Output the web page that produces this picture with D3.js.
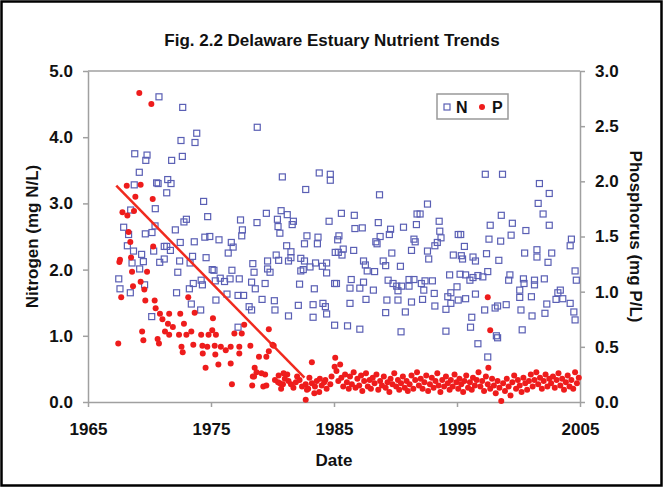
<!DOCTYPE html>
<html>
<head>
<meta charset="utf-8">
<script src="https://cdn.jsdelivr.net/npm/d3@7"></script>
<style>
  body { margin: 0; background: #fff; }
  text { font-family: Arial, "Liberation Sans", sans-serif; font-weight: bold; fill: #111; }
</style>
</head>
<body>
<div id="chart"></div>
<script>
// Chart size
const width = 663;
const height = 487;
const margin = { top: 71, right: 83, bottom: 85, left: 88 };

// Tick values
const yearTicks = [1965, 1975, 1985, 1995, 2005];
const nTicks = [0, 1, 2, 3, 4, 5];
const pTicks = [0, 0.5, 1, 1.5, 2, 2.5, 3];

// Nitrogen samples [year, mg N/L]
const nPoints = [
  [1970.77,4.61],[1972.7,4.45],[1973.84,4.06],[1973.7,3.92],[1972.56,3.95],[1968.8,3.75],[1969.8,3.73],[1969.7,3.65],
  [1971.8,3.65],[1972.67,3.71],[1969.17,3.47],[1968.76,3.28],[1970.58,3.31],[1970.7,3.30],[1971.48,3.36],[1971.75,3.30],
  [1971.4,3.16],[1974.4,3.03],[1970.47,2.92],[1968.47,2.90],[1974.73,2.80],[1973.0,2.76],[1972.8,2.72],[1967.9,2.64],
  [1968.3,2.53],[1969.66,2.54],[1970.2,2.56],[1970.45,2.66],[1972.1,2.60],[1974.5,2.49],[1974.9,2.50],[1973.64,2.42],
  [1972.5,2.41],[1968.2,2.36],[1968.7,2.28],[1969.36,2.23],[1970.34,2.28],[1971.2,2.35],[1971.4,2.35],[1971.7,2.29],
  [1974.6,2.18],[1971.2,2.16],[1970.83,2.11],[1969.5,2.12],[1968.58,2.10],[1972.45,2.13],[1973.5,2.20],[1973.3,2.10],
  [1969.2,2.01],[1975.1,2.00],[1972.3,1.96],[1967.5,1.86],[1967.6,1.71],[1968.44,1.65],[1969.6,1.77],[1972.2,1.65],
  [1973.24,1.71],[1973.56,1.79],[1974.3,1.77],[1974.2,1.84],[1973.4,1.48],[1974.16,1.39],[1970.18,1.29],
  [1978.76,4.15],[1980.8,3.40],[1983.8,3.46],[1984.7,3.44],[1984.7,3.35],[1982.7,3.21],[1977.4,2.75],[1979.5,2.85],
  [1980.7,2.89],[1981.2,2.83],[1980.4,2.76],[1978.74,2.71],[1981.7,2.73],[1981.6,2.68],[1980.45,2.65],[1977.55,2.60],
  [1980.6,2.55],[1984.6,2.73],[1977.5,2.51],[1975.65,2.45],[1976.65,2.41],[1976.8,2.34],[1982.8,2.51],[1983.7,2.49],
  [1983.65,2.39],[1982.6,2.39],[1981.15,2.36],[1976.4,2.25],[1985.1,2.26],[1980.3,2.22],[1981.5,2.27],[1981.5,2.18],
  [1979.6,2.13],[1980.5,2.14],[1981.3,2.13],[1982.3,2.17],[1982.6,2.13],[1978.4,2.09],[1983.5,2.10],[1983.05,2.04],
  [1984.05,2.05],[1984.4,2.10],[1978.5,1.96],[1979.6,2.01],[1979.8,1.96],[1975.24,1.99],[1976.7,1.99],[1984.4,1.95],
  [1982.3,1.98],[1982.5,2.00],[1975.35,1.83],[1975.75,1.87],[1976.1,1.82],[1976.55,1.86],[1977.3,1.86],[1978.3,1.81],
  [1978.6,1.71],[1979.4,1.79],[1982.2,1.78],[1985.05,1.79],[1983.4,1.71],[1975.4,1.54],[1977.2,1.61],[1977.65,1.61],
  [1976.3,1.63],[1979.15,1.55],[1980.15,1.53],[1980.2,1.39],[1982.1,1.46],[1983.3,1.47],[1984.1,1.49],[1984.3,1.44],
  [1978.1,1.44],[1978.3,1.39],[1981.3,1.30],[1983.3,1.28],[1984.4,1.33],[1985.05,1.16],[1977.2,1.13],
  [1988.7,3.13],[1992.6,2.99],[1985.6,2.85],[1986.65,2.82],[1991.75,2.84],[1992.0,2.84],[1993.55,2.73],[1986.7,2.62],
  [1987.3,2.63],[1988.6,2.71],[1989.6,2.61],[1990.65,2.64],[1991.7,2.68],[1993.6,2.58],[1993.7,2.48],[1995.1,2.53],
  [1985.4,2.51],[1985.3,2.45],[1988.75,2.50],[1989.5,2.53],[1988.4,2.42],[1988.5,2.39],[1991.5,2.46],[1991.6,2.42],
  [1993.4,2.41],[1993.2,2.36],[1985.75,2.31],[1985.35,2.26],[1985.65,2.22],[1986.6,2.29],[1989.7,2.25],[1991.3,2.29],
  [1992.6,2.28],[1994.7,2.22],[1987.4,2.13],[1987.55,2.07],[1989.0,2.13],[1989.2,2.06],[1990.4,2.05],[1992.7,2.16],
  [1987.7,1.98],[1988.3,1.97],[1994.4,1.92],[1985.2,1.79],[1986.4,1.85],[1986.3,1.72],[1987.1,1.72],[1987.4,1.81],
  [1988.2,1.69],[1989.4,1.84],[1989.8,1.79],[1990.1,1.75],[1990.5,1.75],[1991.1,1.85],[1991.5,1.85],[1990.2,1.68],
  [1991.1,1.75],[1992.1,1.79],[1992.4,1.83],[1992.3,1.69],[1993.0,1.83],[1993.15,1.64],[1994.25,1.59],[1994.5,1.65],
  [1995.0,1.74],[1986.3,1.49],[1987.6,1.55],[1989.3,1.54],[1990.2,1.54],[1991.3,1.51],[1992.2,1.55],[1993.2,1.45],
  [1994.1,1.40],[1994.5,1.49],[1989.2,1.35],[1990.8,1.36],[1986.1,1.15],[1987.1,1.10],[1990.45,1.06],[1994.1,1.07],
  [1997.3,3.44],[1998.7,3.44],[2001.7,3.30],[2002.5,3.15],[2001.6,3.00],[2002.0,2.84],[1998.6,2.82],[1997.7,2.67],
  [1999.5,2.70],[2002.5,2.67],[1995.3,2.53],[1997.6,2.46],[1998.55,2.43],[1999.4,2.52],[2000.6,2.59],[2004.3,2.46],
  [2004.2,2.36],[1995.6,2.35],[1995.35,2.21],[1995.45,2.16],[1996.3,2.19],[1996.5,2.13],[1997.4,2.24],[1998.4,2.14],
  [2000.5,2.25],[2001.5,2.30],[2001.5,2.19],[2002.7,2.25],[2002.4,2.11],[1995.25,1.93],[1995.7,1.92],[1996.05,1.84],
  [1996.3,1.88],[1996.7,1.91],[1997.1,1.89],[1997.5,1.97],[1999.3,1.92],[1999.2,1.84],[2000.4,1.86],[2000.45,1.79],
  [2001.3,1.84],[2001.3,1.77],[2002.1,1.86],[2004.6,1.98],[2004.7,1.84],[2000.1,1.69],[2000.1,1.58],[2001.05,1.59],
  [2003.4,1.69],[2003.2,1.65],[2003.05,1.55],[2003.6,1.56],[2002.3,1.48],[2004.2,1.49],[2004.5,1.36],[2004.6,1.24],
  [1995.1,1.54],[1995.7,1.56],[1996.5,1.63],[1996.2,1.28],[1996.1,1.13],[1997.25,1.39],[1998.1,1.42],[1998.3,1.45],
  [1999.0,1.47],[2000.2,1.39],[2001.1,1.30],[2002.15,1.34],[1998.2,1.00],[1998.3,0.97],[2000.3,1.09],[1996.7,0.88],
  [1997.5,0.68]
];

// Phosphorus samples [year, mg P/L]
const pPoints = [
  [1969.17,2.80],[1970.15,2.70],[1968.15,1.96],[1969.28,1.97],[1968.85,1.86],[1970.26,1.84],[1967.8,1.72],[1968.2,1.69],
  [1968.74,1.73],[1968.3,1.54],[1968.44,1.45],[1970.3,1.41],[1967.6,1.29],[1967.55,1.27],[1968.5,1.31],[1968.58,1.18],
  [1969.8,1.18],[1969.28,1.09],[1968.66,1.05],[1969.58,1.02],[1967.7,0.95],[1973.15,0.95],[1969.66,0.92],[1970.42,0.92],
  [1970.5,0.85],[1970.85,0.80],[1971.05,0.75],[1971.6,0.80],[1972.5,0.80],[1973.67,0.81],[1971.5,0.71],[1971.9,0.68],
  [1972.8,0.71],[1971.26,0.64],[1971.6,0.61],[1972.4,0.61],[1973.0,0.61],[1973.4,0.64],[1974.2,0.61],[1974.8,0.61],
  [1975.1,0.65],[1969.4,0.64],[1969.5,0.56],[1970.66,0.57],[1970.77,0.53],[1972.6,0.50],[1973.56,0.52],[1974.3,0.51],
  [1974.7,0.50],[1972.7,0.45],[1974.33,0.44],[1967.46,0.53],[1974.56,0.31],
  [1975.16,0.76],[1975.4,0.61],[1976.9,0.62],[1977.5,0.62],[1977.7,0.70],[1979.7,0.66],[1975.3,0.51],[1975.8,0.50],
  [1976.2,0.47],[1976.6,0.50],[1977.3,0.50],[1978.2,0.51],[1977.3,0.44],[1975.35,0.43],[1980.1,0.51],[1979.7,0.46],
  [1978.9,0.41],[1979.5,0.41],[1983.2,0.36],[1975.6,0.34],[1976.6,0.35],[1978.55,0.31],[1978.7,0.27],[1979.4,0.25],
  [1980.5,0.24],[1981.2,0.25],[1978.4,0.23],[1980.45,0.18],[1980.85,0.16],[1981.5,0.16],[1981.9,0.18],[1976.7,0.16],
  [1978.35,0.15],[1979.5,0.15],[1982.7,0.16],[1982.9,0.12],[1983.4,0.08],[1982.7,0.02],[1984.0,0.15],[1984.2,0.18],
  [1984.8,0.23],[1984.7,0.16],[1983.8,0.09],[1985.05,0.32],[1980.2,0.20],[1981.0,0.21],[1981.7,0.13],[1982.2,0.20],
  [1982.4,0.14],[1983.0,0.22],[1983.6,0.19],[1984.4,0.12],[1981.3,0.19],[1980.7,0.12],[1980.0,0.52],
  [1978.5,0.23],[1979.1,0.26],[1979.25,0.14],[1980.6,0.17],[1980.9,0.26],[1982.0,0.23],[1982.8,0.11],[1983.2,0.17],
  [1983.45,0.14],[1983.85,0.21],[1984.3,0.20],
  [1985.1,0.40],[1985.5,0.34],
  [1985.2,0.28],[1985.35,0.19],[1985.6,0.22],[1985.75,0.14],[1985.9,0.25],
  [1986.05,0.18],[1986.2,0.12],[1986.3,0.23],[1986.45,0.16],[1986.6,0.27],[1986.75,0.13],[1986.9,0.21],
  [1987.05,0.15],[1987.2,0.24],[1987.3,0.10],[1987.45,0.19],[1987.6,0.26],[1987.75,0.14],[1987.9,0.20],
  [1988.0,0.12],[1988.15,0.22],[1988.3,0.17],[1988.45,0.25],[1988.6,0.11],[1988.75,0.19],[1988.9,0.15],
  [1989.05,0.23],[1989.2,0.13],[1989.35,0.18],[1989.5,0.09],[1989.6,0.21],[1989.75,0.16],[1989.9,0.26],
  [1990.05,0.14],[1990.2,0.20],[1990.3,0.11],[1990.45,0.17],[1990.6,0.23],[1990.75,0.13],[1990.9,0.19],
  [1991.0,0.10],[1991.15,0.16],[1991.3,0.24],[1991.45,0.12],[1991.6,0.20],[1991.75,0.27],[1991.9,0.15],
  [1992.05,0.21],[1992.2,0.12],[1992.35,0.18],[1992.5,0.24],[1992.65,0.10],[1992.8,0.16],[1992.95,0.22],
  [1993.1,0.13],[1993.25,0.19],[1993.4,0.26],[1993.5,0.15],[1993.65,0.09],[1993.8,0.20],[1993.95,0.14],
  [1994.1,0.23],[1994.25,0.17],[1994.4,0.11],[1994.5,0.20],[1994.65,0.14],[1994.8,0.25],[1994.95,0.18],
  [1995.1,0.12],[1995.2,0.21],[1995.35,0.16],[1995.5,0.09],[1995.6,0.19],[1995.75,0.24],[1995.9,0.13],
  [1996.05,0.18],[1996.2,0.11],[1996.3,0.22],[1996.45,0.15],[1996.6,0.20],[1996.75,0.27],[1996.9,0.14],
  [1997.05,0.19],[1997.2,0.10],[1997.35,0.23],[1997.5,0.16],[1997.7,0.12],[1997.85,0.21],
  [1997.5,0.95],[1997.7,0.65],[1997.55,0.31],
  [1998.0,0.15],[1998.15,0.08],[1998.3,0.19],[1998.45,0.13],[1998.6,0.01],[1998.75,0.17],[1998.9,0.10],
  [1999.05,0.21],[1999.2,0.14],[1999.35,0.06],[1999.5,0.18],[1999.65,0.24],[1999.8,0.12],[1999.95,0.20],
  [2000.1,0.15],[2000.25,0.09],[2000.4,0.22],[2000.55,0.17],[2000.7,0.11],[2000.85,0.19],
  [2001.0,0.25],[2001.15,0.14],[2001.3,0.20],[2001.45,0.27],[2001.6,0.16],[2001.75,0.22],[2001.9,0.12],
  [2002.05,0.19],[2002.2,0.25],[2002.35,0.14],[2002.5,0.21],[2002.65,0.17],[2002.8,0.23],[2002.95,0.13],
  [2003.1,0.20],[2003.25,0.26],[2003.4,0.15],[2003.55,0.21],[2003.7,0.11],[2003.85,0.18],
  [2004.0,0.24],[2004.15,0.14],[2004.3,0.20],[2004.45,0.12],[2004.6,0.27],[2004.75,0.17],[2004.9,0.22]
];

// Phosphorus trend line end points [year, mg P/L]
const pTrend = [[1967.3, 1.96], [1982.6, 0.22]];

const svg = d3.select('#chart')
    .append('svg')
    .attr('width', width)
    .attr('height', height);

// Outer black frame
svg.append('rect')
    .attr('x', 1.5).attr('y', 1.5)
    .attr('width', width - 3).attr('height', height - 3)
    .attr('fill', 'none')
    .attr('stroke', '#000')
    .attr('stroke-width', 2.5);

// Scales
const x = d3.scaleLinear().domain([1965, 2005]).range([margin.left, width - margin.right]);
const yN = d3.scaleLinear().domain([0, 5]).range([height - margin.bottom, margin.top]);
const yP = d3.scaleLinear().domain([0, 3]).range([height - margin.bottom, margin.top]);

const axisColor = '#a0a0a0';

// Top border of plot area
svg.append('line')
    .attr('x1', x(1965)).attr('x2', x(2005))
    .attr('y1', yN(5)).attr('y2', yN(5))
    .attr('stroke', axisColor).attr('stroke-width', 1.5);

// Axes
const xAxis = svg.append('g')
    .attr('transform', `translate(0,${height - margin.bottom})`)
    .call(d3.axisBottom(x).tickValues(yearTicks).tickFormat(d3.format('d')).tickSize(5).tickSizeOuter(0).tickPadding(16));

const leftAxis = svg.append('g')
    .attr('transform', `translate(${margin.left},0)`)
    .call(d3.axisLeft(yN).tickValues(nTicks).tickFormat(d3.format('.1f')).tickSize(5).tickSizeOuter(0).tickPadding(10));

const rightAxis = svg.append('g')
    .attr('transform', `translate(${width - margin.right},0)`)
    .call(d3.axisRight(yP).tickValues(pTicks).tickFormat(d3.format('.1f')).tickSize(5).tickSizeOuter(0).tickPadding(10));

[xAxis, leftAxis, rightAxis].forEach(a => {
    a.select('.domain').attr('stroke', axisColor).attr('stroke-width', 1.5);
    a.selectAll('.tick line').attr('stroke', axisColor).attr('stroke-width', 1.5);
    a.selectAll('.tick text')
        .attr('fill', '#111')
        .style('font-size', '17px')
        .style('font-weight', 'bold');
});

// Nitrogen: open squares
svg.append('g')
    .selectAll('rect')
    .data(nPoints)
    .join('rect')
      .attr('x', d => x(d[0]) - 3)
      .attr('y', d => yN(d[1]) - 3)
      .attr('width', 6)
      .attr('height', 6)
      .attr('fill', 'none')
      .attr('stroke', '#5a5fb4')
      .attr('stroke-width', 1.2);

// Phosphorus: filled red dots
svg.append('g')
    .selectAll('circle')
    .data(pPoints)
    .join('circle')
      .attr('cx', d => x(d[0]))
      .attr('cy', d => yP(d[1]))
      .attr('r', 3)
      .attr('fill', '#ee1c1c');

// Trend line
svg.append('path')
    .datum(pTrend)
    .attr('fill', 'none')
    .attr('stroke', '#f02a1e')
    .attr('stroke-width', 2.5)
    .attr('d', d3.line().x(d => x(d[0])).y(d => yP(d[1])));

// Title
svg.append('text')
    .attr('x', 332).attr('y', 46)
    .attr('text-anchor', 'middle')
    .style('font-size', '17px')
    .text('Fig. 2.2 Delaware Estuary Nutrient Trends');

// Axis titles
svg.append('text')
    .attr('transform', `translate(38,${(yN(0) + yN(5)) / 2}) rotate(-90)`)
    .attr('text-anchor', 'middle')
    .style('font-size', '17px')
    .text('Nitrogen (mg N/L)');

svg.append('text')
    .attr('transform', `translate(630,${(yN(0) + yN(5)) / 2}) rotate(90)`)
    .attr('text-anchor', 'middle')
    .style('font-size', '17px')
    .text('Phosphorus (mg P/L)');

svg.append('text')
    .attr('x', (x(1965) + x(2005)) / 2).attr('y', 466)
    .attr('text-anchor', 'middle')
    .style('font-size', '17px')
    .text('Date');

// Legend
const legend = svg.append('g').attr('transform', 'translate(437,94)');
legend.append('rect')
    .attr('width', 71).attr('height', 25)
    .attr('fill', '#fff')
    .attr('stroke', '#999')
    .attr('stroke-width', 1.5);
legend.append('rect')
    .attr('x', 7).attr('y', 10).attr('width', 6).attr('height', 6)
    .attr('fill', 'none').attr('stroke', '#5a5fb4').attr('stroke-width', 1.2);
legend.append('text')
    .attr('x', 19).attr('y', 19)
    .style('font-size', '16px')
    .text('N');
legend.append('circle')
    .attr('cx', 45).attr('cy', 13).attr('r', 3)
    .attr('fill', '#ee1c1c');
legend.append('text')
    .attr('x', 55).attr('y', 19)
    .style('font-size', '16px')
    .text('P');
</script>
</body>
</html>
